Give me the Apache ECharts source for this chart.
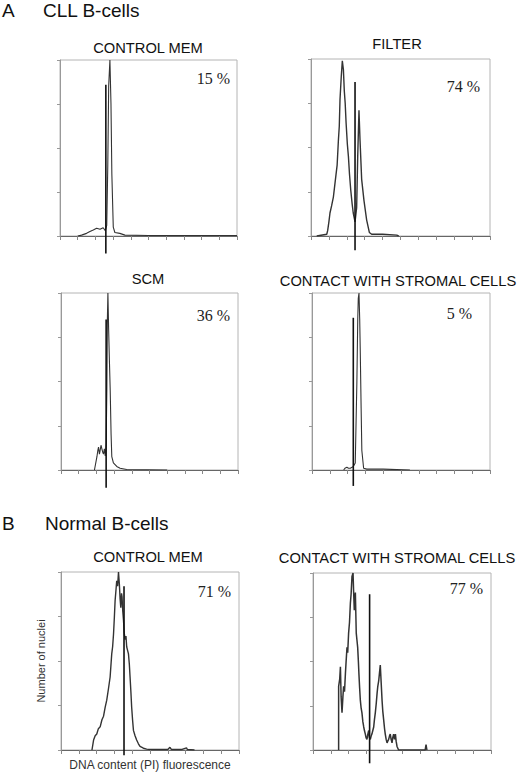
<!DOCTYPE html>
<html>
<head>
<meta charset="utf-8">
<script src="https://cdn.jsdelivr.net/npm/echarts@6/dist/echarts.min.js"></script>
<style>
  html, body { margin: 0; padding: 0; background: #fff; }
  #chart { width: 520px; height: 772px; }
</style>
</head>
<body>
<div id="chart"></div>
<script>
// DNA content histograms, channel 0-100, counts as % of panel max

// A: CLL B-cells, control MEM
var cllMemX = [10, 12.2, 15.0, 16.9, 18.8, 20.7, 22.6, 24.4, 25.6, 26.4, 27.0, 27.5, 28.2, 28.8, 29.3, 30.1, 31.0, 33.8, 36.7, 50, 100]
var cllMemY = [0, 0.5, 1.5, 2.5, 3.4, 4.4, 3.8, 4.7, 3.0, 6, 40, 85, 100, 75, 35, 5, 2, 1.5, 0.5, 0.3, 0.3]

// A: filter
var cllFilterX = [3.2, 8.8, 9.3, 10.0, 10.6, 11.5, 12.5, 13.2, 14.0, 14.6, 15.3, 15.8, 16.2, 16.9, 17.5, 18.1, 18.6, 19.1, 19.6, 20.3, 20.9, 21.5, 22.2, 23.0, 23.6, 24.6, 25.5, 26.1, 26.8, 27.4, 28.3, 29.6, 31.1, 32.6, 33.9, 40, 47.9, 49]
var cllFilterY = [0, 1, 3, 8, 13, 17, 22, 28, 35, 40, 54, 62, 77, 90, 99, 94, 82, 75, 64, 52, 45, 35, 26, 18, 13, 8, 16, 45, 71, 54, 32, 20, 9, 2, 1, 1, 0.5, 0]

// A: SCM
var cllScmX = [18.9, 20.3, 20.8, 21.2, 21.7, 22.1, 22.6, 23.1, 23.6, 24.0, 24.5, 25.0, 25.5, 25.9, 26.2, 26.5, 26.9, 27.4, 27.8, 28.3, 28.7, 29.6, 31.5, 33.4, 37.1, 60]
var cllScmY = [0, 7.5, 11, 13, 9, 11, 14, 12, 10, 9, 12, 8, 15, 45, 85, 100, 80, 60, 45, 20, 7.5, 4, 2, 1, 0.3, 0]

// A: contact with stromal cells
var cllStromaX = [17.8, 18.5, 19.6, 20.5, 21.5, 22.5, 23.2, 24.3, 25.2, 25.7, 26.0, 26.4, 26.8, 27.1, 27.6, 28.0, 29.0, 30.8, 40, 55]
var cllStromaY = [0, 1, 1.5, 1, 1, 1.5, 2, 4, 49, 85, 97, 100, 85, 68, 35, 11, 1, 0.5, 0.5, 0]

// B: normal B-cells, control MEM
var normMemX = [17.4, 18.3, 19.2, 20.1, 21.0, 22.0, 23.0, 23.9, 24.8, 25.7, 26.6, 27.6, 28.5, 29.0, 29.5, 30.0, 30.4, 30.9, 31.3, 31.8, 32.3, 32.8, 33.2, 33.6, 34.0, 34.3, 34.7, 35.1, 35.5, 36.0, 36.5, 36.9, 37.4, 37.9, 38.4, 38.8, 39.3, 39.7, 40.2, 40.7, 41.6, 42.5, 43.5, 44.4, 46.3, 48.1, 50, 55, 60, 61.2, 62, 68, 70.5, 71, 75]
var normMemY = [0, 5.6, 8, 9, 12, 13, 17, 19, 24, 28, 34, 41, 54, 58, 65, 75, 84, 90, 95, 92, 100, 93, 85, 80, 88, 86, 78, 73, 66, 62, 64, 58, 56, 54, 48, 41, 32, 24, 17, 11, 8, 5.6, 3.5, 2, 1, 0.5, 0.3, 0.3, 0.3, 1.5, 0.3, 0.3, 1.2, 0.3, 0]

// B: contact with stromal cells
var normStromaX = [14.4, 14.4, 15.0, 15.4, 15.8, 16.3, 16.8, 17.2, 17.7, 18.2, 18.6, 19.1, 19.5, 20.0, 20.5, 21.0, 21.4, 21.9, 22.5, 22.8, 23.2, 23.5, 23.8, 24.3, 24.7, 25.1, 25.5, 25.8, 26.2, 26.6, 27.0, 27.5, 28.0, 28.5, 28.9, 29.4, 29.8, 30.3, 30.8, 31.3, 31.7, 32.2, 32.7, 33.1, 33.6, 34.1, 34.5, 35.0, 35.5, 36.0, 36.4, 36.9, 37.4, 37.8, 38.3, 38.8, 39.2, 39.7, 40.2, 40.6, 41.1, 41.6, 42.0, 42.5, 43.0, 43.4, 43.9, 44.4, 44.8, 45.3, 45.8, 46.3, 46.7, 47.2, 48.1, 63, 63.5, 64]
var normStromaY = [0, 36, 40, 47, 30, 21, 30, 36, 33, 43, 50, 58, 55, 66, 72, 83, 88, 98, 100, 90, 79, 86, 89, 66, 62, 58, 50, 43, 35, 28, 24, 21, 16, 13, 11, 9, 7, 6, 9, 11, 7, 6, 8, 9, 11, 13, 17, 21, 26, 32, 36, 39, 44, 48, 38, 28, 22, 17, 12, 9, 6, 4, 5, 6, 8, 9, 6, 4, 7, 9, 6, 9, 5, 2, 0, 0, 3, 0]

// vertical gate markers: channel, top, bottom
var markerX = [25.9, 24.6, 25.5, 23.2, 35.4, 31.8]
var markerTop = [86, 87, 85, 86, 92, 88]
var markerBottom = [-10, -8, -10, -9, -3, -7.5]

var panelTitles = ['CONTROL MEM', 'FILTER', 'SCM', 'CONTACT WITH STROMAL CELLS', 'CONTROL MEM', 'CONTACT WITH STROMAL CELLS']
var panelPercent = ['15 %', '74 %', '36 %', '5 %', '71 %', '77 %']

var histX = [cllMemX, cllFilterX, cllScmX, cllStromaX, normMemX, normStromaX]
var histY = [cllMemY, cllFilterY, cllScmY, cllStromaY, normMemY, normStromaY]

// layout
var grids = [
	{ left: 60, top: 60, width: 177, height: 176 },
	{ left: 311, top: 59, width: 179, height: 177 },
	{ left: 61, top: 293, width: 177, height: 177 },
	{ left: 312, top: 293, width: 178, height: 177 },
	{ left: 61, top: 572, width: 178, height: 178 },
	{ left: 313, top: 573, width: 178, height: 177 }
]
var titlePos = [[148, 48], [397, 44], [148, 279], [398, 281], [148, 557], [397, 558]]
var pctPos = [[230, 78], [480, 86], [230, 315], [472, 313], [231, 591], [483, 588]]
var traceWidth = [1.1, 1.4, 1.1, 1.1, 1.4, 1.5]

var sans = 'Liberation Sans, Arial, sans-serif'
var serif = 'Liberation Serif, Times New Roman, serif'

var gridOpt = [], xAxes = [], yAxes = [], series = [], graphics = []

for (let i = 0; i < 6; i++) {
	gridOpt.push(Object.assign({ show: true, borderColor: '#b4b4b4', borderWidth: 1 }, grids[i]))
	xAxes.push({
		type: 'value', gridIndex: i, min: 0, max: 100, interval: 10,
		axisLine: { show: true, onZero: false, lineStyle: { color: '#666', width: 1 } },
		axisTick: { show: true, length: 4, lineStyle: { color: '#888' } },
		axisLabel: { show: false },
		splitLine: { show: false },
		name: i === 4 ? 'DNA content (PI) fluorescence' : '',
		nameLocation: 'middle',
		nameGap: 9,
		nameTextStyle: { fontSize: 12, color: '#333', fontFamily: sans }
	})
	yAxes.push({
		type: 'value', gridIndex: i, min: 0, max: 100, interval: 25,
		axisLine: { show: true, onZero: false, lineStyle: { color: '#999', width: 1 } },
		axisTick: { show: true, length: 3, lineStyle: { color: '#999' } },
		axisLabel: { show: false },
		splitLine: { show: false },
		name: i === 4 ? 'Number of nuclei' : '',
		nameLocation: 'middle',
		nameGap: 15,
		nameTextStyle: { fontSize: 11, color: '#333', fontFamily: sans }
	})

	var pts = []
	for (let k = 0; k < histX[i].length; k++) pts.push([histX[i][k], histY[i][k]])
	series.push({
		type: 'line', xAxisIndex: i, yAxisIndex: i,
		data: pts, symbol: 'none', animation: false,
		lineStyle: { color: '#333', width: traceWidth[i] },
		z: 2
	})
	series.push({
		type: 'line', xAxisIndex: i, yAxisIndex: i,
		data: [[markerX[i], markerTop[i]], [markerX[i], markerBottom[i]]],
		symbol: 'none', clip: false, animation: false,
		lineStyle: { color: '#111', width: 1.6 },
		z: 3
	})

	graphics.push({
		type: 'text', x: titlePos[i][0], y: titlePos[i][1],
		style: { text: panelTitles[i], fontSize: 14.7, fontFamily: sans, fill: '#111', textAlign: 'center', textVerticalAlign: 'middle' }
	})
	graphics.push({
		type: 'text', x: pctPos[i][0], y: pctPos[i][1],
		style: { text: panelPercent[i], fontSize: 16, fontFamily: serif, fill: '#222', textAlign: 'right', textVerticalAlign: 'middle' }
	})
}

// section headings
graphics.push({ type: 'text', x: 2, y: 10, style: { text: 'A', fontSize: 19, fontFamily: sans, fill: '#111', textAlign: 'left', textVerticalAlign: 'middle' } })
graphics.push({ type: 'text', x: 43, y: 10, style: { text: 'CLL B-cells', fontSize: 19, fontFamily: sans, fill: '#111', textAlign: 'left', textVerticalAlign: 'middle' } })
graphics.push({ type: 'text', x: 2, y: 523, style: { text: 'B', fontSize: 19, fontFamily: sans, fill: '#111', textAlign: 'left', textVerticalAlign: 'middle' } })
graphics.push({ type: 'text', x: 45, y: 523, style: { text: 'Normal B-cells', fontSize: 19, fontFamily: sans, fill: '#111', textAlign: 'left', textVerticalAlign: 'middle' } })

var myChart = echarts.init(document.getElementById('chart'), null, { renderer: 'svg' })
myChart.setOption({
	backgroundColor: '#fff',
	animation: false,
	grid: gridOpt,
	xAxis: xAxes,
	yAxis: yAxes,
	series: series,
	graphic: graphics
})
</script>
</body>
</html>
